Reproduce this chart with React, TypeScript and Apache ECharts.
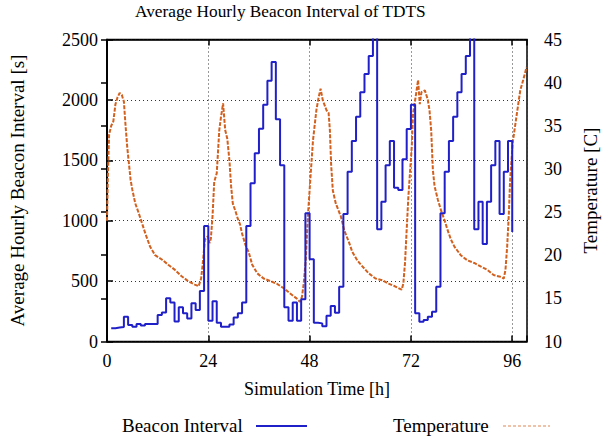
import React, { useEffect, useRef } from "react";
import * as echarts from "echarts";

const titleText = "Average Hourly Beacon Interval of TDTS";
const xTicks = [0, 24, 48, 72, 96];
const legendNames = ["Beacon Interval", "Temperature"];

const beaconHours = [
  1, 2, 3, 4, 5, 6, 7, 8, 9, 10, 11, 12, 13, 14, 15, 16, 17, 18, 19, 20, 21, 22, 23, 24,
  25, 26, 27, 28, 29, 30, 31, 32, 33, 34, 35, 36, 37, 38, 39, 40, 41, 42, 43, 44, 45, 46, 47, 48,
  49, 50, 51, 52, 53, 54, 55, 56, 57, 58, 59, 60, 61, 62, 63, 64, 65, 66, 67, 68, 69, 70, 71, 72,
  73, 74, 75, 76, 77, 78, 79, 80, 81, 82, 83, 84, 85, 86, 87, 88, 89, 90, 91, 92, 93, 94, 95, 96,
];
const beaconValues = [
  110, 115, 120, 205, 137, 122, 144, 133, 144, 144, 144, 219, 241, 357, 322, 165, 284, 234, 190, 316, 261, 418, 956, 171,
  334, 155, 122, 122, 141, 199, 234, 322, 956, 1309, 1558, 1762, 1960, 2159, 2314, 1839, 1458, 283, 171, 322, 171, 349, 1061, 680,
  155, 150, 127, 214, 294, 239, 454, 1055, 1406, 1660, 1861, 2063, 2214, 2363, 2650, 929, 1157, 1458, 1660, 1273, 1254, 1508, 1759, 1960,
  233, 164, 178, 205, 246, 454, 1061, 1406, 1660, 1861, 2063, 2214, 2363, 2650, 929, 1157, 807, 1157, 1458, 1660, 1055, 1406, 1660, 906,
];

const tempHours = [
  0.0, 0.2, 0.5, 1.0, 1.5, 2.0, 2.5, 3.0, 3.5, 4.0, 4.4, 4.8, 5.2, 5.6, 6.0, 6.7, 7.5, 8.3, 9.1, 10.2,
  11.4, 13.0, 14.5, 16.1, 17.6, 19.2, 20.8, 21.7, 22.3, 22.7, 23.2, 23.9, 24.3, 24.6, 25.0, 25.4, 26.0, 26.6, 27.0, 27.5,
  28.0, 28.5, 29.0, 29.4, 29.8, 30.5, 31.0, 31.5, 32.0, 32.8, 33.6, 34.4, 35.6, 37.1, 38.7, 40.2, 41.8, 43.3, 44.9, 45.7,
  46.2, 46.6, 47.1, 47.6, 48.2, 48.8, 49.6, 50.1, 50.6, 51.1, 52.0, 52.5, 52.8, 53.1, 53.5, 54.2, 55.4, 56.2, 57.4, 58.1,
  59.3, 60.5, 62.0, 63.6, 65.2, 66.7, 68.2, 69.8, 70.2, 70.6, 71.0, 71.4, 72.2, 72.5, 73.1, 73.7, 74.1, 74.5, 75.3, 75.7,
  76.0, 76.4, 76.8, 77.2, 77.6, 78.4, 79.2, 80.0, 80.7, 81.5, 82.3, 83.8, 85.4, 87.0, 88.5, 90.1, 91.6, 93.2, 94.0, 94.4,
  94.8, 95.2, 95.5, 96.1, 97.1, 97.9, 98.6, 99.4,
];
const tempValues = [
  24.0, 29.0, 34.0, 35.0, 35.5, 37.5, 38.3, 38.8, 38.6, 37.8, 35.0, 32.5, 30.6, 28.7, 27.6, 26.0, 24.9, 23.7, 22.5, 21.0,
  20.0, 19.5, 18.9, 18.3, 17.6, 17.0, 16.6, 16.4, 17.3, 19.1, 21.8, 22.2, 21.4, 21.9, 24.5, 28.5, 29.5, 34.5, 36.0, 37.6,
  34.5, 33.5, 31.0, 28.0, 26.0, 25.0, 24.2, 23.6, 22.5, 21.2, 20.3, 18.9, 17.9, 17.3, 17.0, 16.7, 16.2, 15.6, 15.0, 14.6,
  15.2, 16.7, 19.5, 24.6, 29.0, 33.3, 36.8, 38.2, 39.3, 38.0, 36.8, 36.5, 34.5, 30.5, 27.5, 26.0, 24.5, 22.9, 21.4, 20.4,
  19.4, 18.7, 17.9, 17.3, 17.1, 16.7, 16.4, 16.0, 16.7, 19.1, 23.0, 26.8, 32.6, 36.4, 38.3, 40.3, 37.5, 38.9, 39.1, 38.5,
  38.0, 36.8, 34.5, 29.9, 28.0, 26.4, 25.1, 24.0, 22.9, 21.8, 21.0, 20.0, 19.4, 19.1, 18.7, 18.3, 17.7, 17.5, 17.3, 18.3,
  21.0, 24.8, 28.7, 33.0, 36.4, 39.1, 40.3, 41.8,
];

const FONT = "'Liberation Serif', 'Times New Roman', serif";
const BLUE = "#2020c8";
const ORANGE = "#d2601e";

export default function App() {
  const ref = useRef<HTMLDivElement>(null);
  useEffect(() => {
    if (!ref.current) return;
    const chart = echarts.init(ref.current, undefined, { renderer: "svg" });
    const gridLine = { show: true, lineStyle: { color: "#333", width: 1, type: [1, 3] as any } };
    const tickStyle = { show: true, inside: true, length: 6, lineStyle: { color: "#000", width: 1.5 } };
    const axisLine = { show: true, lineStyle: { color: "#000", width: 1.5 } };
    const labelFont = { fontFamily: FONT, fontSize: 18, color: "#000" };
    chart.setOption({
      animation: false,
      backgroundColor: "#fff",
      title: {
        text: titleText,
        left: 135,
        top: 3,
        padding: 0,
        textStyle: { fontFamily: FONT, fontSize: 17.3, fontWeight: "normal", color: "#000" },
      },
      graphic: [
        {
          type: "text",
          left: 122,
          top: 416,
          style: { text: legendNames[0], fontFamily: FONT, fontSize: 19, fill: "#000" },
        },
        {
          type: "line",
          shape: { x1: 256, y1: 426, x2: 307, y2: 426 },
          style: { stroke: BLUE, lineWidth: 2 },
        },
        {
          type: "text",
          left: 393,
          top: 416,
          style: { text: legendNames[1], fontFamily: FONT, fontSize: 19, fill: "#000" },
        },
        {
          type: "line",
          shape: { x1: 503, y1: 426, x2: 550, y2: 426 },
          style: { stroke: ORANGE, lineWidth: 1.2, lineDash: [3, 2], opacity: 0.75 },
        },
      ],
      grid: {
        left: 104.5,
        right: 77,
        top: 39.5,
        bottom: 99.5,
        show: true,
        borderColor: "#000",
        borderWidth: 1.5,
      },
      xAxis: [
        {
          type: "value",
          min: 0,
          max: 99.5,
          interval: 24,
          position: "bottom",
          name: "Simulation Time [h]",
          nameLocation: "middle",
          nameGap: 38,
          nameTextStyle: labelFont,
          axisLine,
          axisTick: tickStyle,
          axisLabel: {
            ...labelFont,
            margin: 10,
            formatter: (v: number) => (xTicks.includes(v) ? String(v) : ""),
          },
          splitLine: gridLine,
        },
        {
          type: "value",
          min: 0,
          max: 99.5,
          interval: 24,
          position: "top",
          axisLine,
          axisTick: tickStyle,
          axisLabel: { show: false },
          splitLine: { show: false },
        },
      ],
      yAxis: [
        {
          type: "value",
          min: 0,
          max: 2500,
          interval: 500,
          position: "left",
          name: "Average Hourly Beacon Interval [s]",
          nameLocation: "middle",
          nameGap: 80,
          nameTextStyle: { ...labelFont, fontSize: 19 },
          axisLine,
          axisTick: tickStyle,
          axisLabel: { ...labelFont, margin: 9, formatter: (v: number) => String(v) },
          splitLine: gridLine,
        },
        {
          type: "value",
          min: 10,
          max: 45,
          interval: 5,
          position: "right",
          name: "Temperature [C]",
          nameLocation: "middle",
          nameRotate: 90,
          nameGap: 54,
          nameTextStyle: { ...labelFont, fontSize: 19 },
          axisLine,
          axisTick: tickStyle,
          axisLabel: { ...labelFont, margin: 17, formatter: (v: number) => String(v) },
          splitLine: { show: false },
        },
      ],
      series: [
        {
          name: "Beacon Interval",
          type: "line",
          step: "end",
          xAxisIndex: 0,
          yAxisIndex: 0,
          symbol: "none",
          z: 3,
          clip: true,
          data: beaconHours.map((h, i) => [h, beaconValues[i]]),
          lineStyle: { color: BLUE, width: 2 },
          itemStyle: { color: BLUE },
        },
        {
          name: "Temperature",
          type: "line",
          xAxisIndex: 0,
          yAxisIndex: 1,
          symbol: "none",
          z: 2,
          data: tempHours.map((h, i) => [h, tempValues[i]]),
          lineStyle: { color: ORANGE, width: 2, type: [4, 1.5] },
          itemStyle: { color: ORANGE },
        },
      ],
    });
    return () => chart.dispose();
  }, []);
  return (
    <div
      ref={ref}
      style={{ position: "fixed", left: 0, top: 0, width: 608, height: 441 }}
    />
  );
}
